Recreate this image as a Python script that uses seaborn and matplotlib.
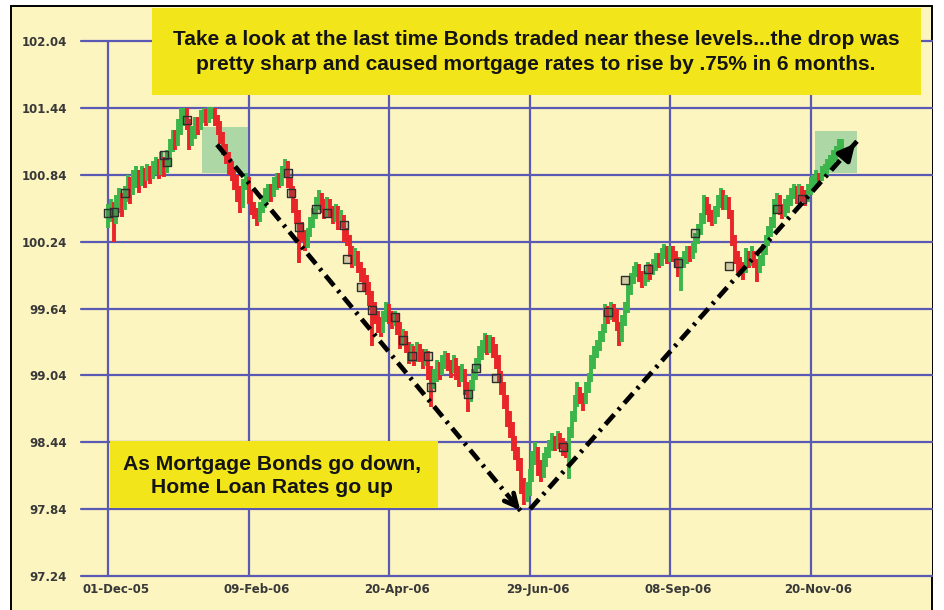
import numpy as np
import pandas as pd
import matplotlib
matplotlib.use("Agg")
import matplotlib.pyplot as plt
from matplotlib.patches import Rectangle
from matplotlib.transforms import ScaledTranslation
import seaborn as sns

# seances : ligne 1 = 1-2 dec 2005, puis une ligne par semaine (lun-ven)
closes = [
    100.51, 100.55,
    100.48, 100.58, 100.62, 100.56, 100.66,
    100.74, 100.70, 100.80, 100.84, 100.78,
    100.86, 100.82, 100.88, 100.84, 100.90,
    100.94, 100.88, 100.96, 100.90, 100.98,
    101.10, 101.18, 101.14, 101.26, 101.34,
    101.40, 101.32, 101.12, 101.22, 101.30,
    101.28, 101.36, 101.40, 101.34, 101.41,
    101.42, 101.35, 101.30, 101.20, 101.10,
    101.00, 100.92, 100.86, 100.80, 100.70,
    100.62, 100.76, 100.80, 100.66, 100.55,
    100.50, 100.44, 100.56, 100.60, 100.66,
    100.70, 100.68, 100.76, 100.80, 100.78,
    100.86, 100.92, 100.78, 100.70, 100.58,
    100.48, 100.38, 100.30, 100.22, 100.32,
    100.40, 100.48, 100.58, 100.63, 100.56,
    100.50, 100.58, 100.52, 100.46, 100.50,
    100.40, 100.44, 100.30, 100.26, 100.16,
    100.08, 100.12, 100.02, 99.96, 99.88,
    99.84, 99.74, 99.66, 99.58, 99.50,
    99.46, 99.56, 99.64, 99.58, 99.54,
    99.56, 99.48, 99.36, 99.40, 99.30,
    99.22, 99.26, 99.20, 99.28, 99.24,
    99.18, 99.22, 99.08, 98.98, 99.04,
    99.12, 99.08, 99.16, 99.20, 99.14,
    99.10, 99.16, 99.06, 99.02, 99.08,
    98.92, 98.84, 98.96, 99.06, 99.14,
    99.24, 99.30, 99.36, 99.28, 99.34,
    99.26, 99.18, 99.04, 98.94, 98.82,
    98.66, 98.56, 98.44, 98.36, 98.26,
    98.06, 97.96, 98.00, 98.14, 98.30,
    98.36, 98.22, 98.16, 98.28, 98.34,
    98.40, 98.46, 98.42, 98.48, 98.44,
    98.40, 98.36, 98.52, 98.66, 98.80,
    98.90, 98.84, 98.80, 98.92, 99.00,
    99.16, 99.24, 99.30, 99.38, 99.44,
    99.62, 99.58, 99.66, 99.60, 99.50,
    99.36, 99.52, 99.64, 99.80, 99.90,
    99.96, 100.00, 99.94, 99.88, 99.92,
    100.00, 99.96, 100.02, 100.08, 100.06,
    100.12, 100.16, 100.10, 100.14, 100.12,
    100.06, 99.98, 100.04, 100.10, 100.14,
    100.12, 100.18, 100.26, 100.34, 100.44,
    100.58, 100.54, 100.48, 100.44, 100.50,
    100.60, 100.66, 100.58, 100.60, 100.50,
    100.26, 100.12, 100.04, 100.00, 99.98,
    100.12, 100.08, 100.14, 100.06, 100.00,
    100.06, 100.16, 100.24, 100.32, 100.40,
    100.56, 100.62, 100.54, 100.50, 100.56,
    100.60, 100.66, 100.70, 100.64, 100.70,
    100.66, 100.62, 100.70, 100.76, 100.78,
    100.82, 100.80, 100.86, 100.88, 100.92,
    100.96, 101.00, 101.04, 101.08, 101.12,
]
highs = [
    100.58, 100.62,
    100.60, 100.66, 100.72, 100.68, 100.74,
    100.84, 100.82, 100.88, 100.92, 100.88,
    100.92, 100.90, 100.94, 100.92, 100.96,
    101.00, 100.98, 101.04, 101.00, 101.06,
    101.16, 101.24, 101.24, 101.34, 101.44,
    101.44, 101.44, 101.34, 101.28, 101.36,
    101.36, 101.42, 101.44, 101.43, 101.45,
    101.45, 101.44, 101.38, 101.32, 101.22,
    101.12, 101.04, 100.96, 100.90, 100.84,
    100.74, 100.80, 100.86, 100.82, 100.70,
    100.60, 100.54, 100.60, 100.66, 100.72,
    100.76, 100.76, 100.82, 100.86, 100.86,
    100.92, 100.98, 100.96, 100.82, 100.74,
    100.62, 100.52, 100.42, 100.34, 100.36,
    100.46, 100.54, 100.64, 100.70, 100.68,
    100.62, 100.64, 100.62, 100.56, 100.58,
    100.56, 100.52, 100.48, 100.36, 100.30,
    100.20, 100.18, 100.16, 100.06, 100.00,
    99.94, 99.88, 99.80, 99.70, 99.62,
    99.56, 99.62, 99.70, 99.68, 99.62,
    99.62, 99.60, 99.52, 99.46, 99.44,
    99.34, 99.32, 99.30, 99.34, 99.32,
    99.28, 99.28, 99.26, 99.12, 99.10,
    99.18, 99.16, 99.22, 99.26, 99.24,
    99.18, 99.22, 99.20, 99.12, 99.14,
    99.10, 98.98, 99.00, 99.10, 99.20,
    99.30, 99.36, 99.42, 99.40, 99.40,
    99.38, 99.32, 99.22, 99.08, 98.98,
    98.86, 98.72, 98.62, 98.50, 98.40,
    98.30, 98.12, 98.08, 98.20, 98.36,
    98.44, 98.40, 98.28, 98.34, 98.40,
    98.46, 98.52, 98.50, 98.54, 98.52,
    98.48, 98.44, 98.58, 98.72, 98.86,
    98.98, 98.94, 98.88, 98.98, 99.06,
    99.22, 99.30, 99.36, 99.44, 99.50,
    99.68, 99.66, 99.70, 99.68, 99.64,
    99.52, 99.58, 99.70, 99.86, 99.96,
    100.02, 100.06, 100.04, 99.98, 99.98,
    100.06, 100.04, 100.08, 100.14, 100.14,
    100.18, 100.22, 100.20, 100.20, 100.20,
    100.16, 100.10, 100.10, 100.16, 100.20,
    100.20, 100.24, 100.32, 100.40, 100.50,
    100.66, 100.64, 100.58, 100.52, 100.56,
    100.66, 100.72, 100.70, 100.66, 100.64,
    100.52, 100.30, 100.16, 100.10, 100.06,
    100.18, 100.16, 100.20, 100.16, 100.08,
    100.12, 100.22, 100.30, 100.38, 100.46,
    100.62, 100.68, 100.66, 100.58, 100.62,
    100.66, 100.72, 100.76, 100.74, 100.76,
    100.74, 100.70, 100.76, 100.82, 100.84,
    100.88, 100.86, 100.92, 100.94, 100.98,
    101.02, 101.06, 101.10, 101.16, 101.16,
]
lows = [
    100.36, 100.42,
    100.24, 100.40, 100.50, 100.46, 100.52,
    100.60, 100.58, 100.66, 100.72, 100.68,
    100.74, 100.72, 100.78, 100.76, 100.80,
    100.84, 100.80, 100.84, 100.82, 100.86,
    100.92, 101.04, 101.06, 101.10, 101.20,
    101.28, 101.24, 101.06, 101.10, 101.16,
    101.20, 101.24, 101.30, 101.28, 101.30,
    101.34, 101.28, 101.20, 101.12, 101.02,
    100.94, 100.84, 100.78, 100.70, 100.60,
    100.50, 100.54, 100.70, 100.58, 100.48,
    100.44, 100.38, 100.42, 100.50, 100.54,
    100.60, 100.60, 100.64, 100.70, 100.72,
    100.74, 100.82, 100.72, 100.64, 100.50,
    100.40, 100.05, 100.24, 100.16, 100.18,
    100.28, 100.36, 100.44, 100.52, 100.50,
    100.44, 100.46, 100.46, 100.40, 100.42,
    100.34, 100.36, 100.24, 100.20, 100.10,
    100.00, 100.02, 99.96, 99.88, 99.80,
    99.76, 99.66, 99.30, 99.50, 99.42,
    99.38, 99.42, 99.52, 99.50, 99.46,
    99.48, 99.40, 99.28, 99.30, 99.24,
    99.14, 99.16, 99.12, 99.16, 99.16,
    99.10, 99.12, 99.00, 98.76, 98.92,
    98.98, 99.00, 99.04, 99.10, 99.08,
    99.02, 99.06, 99.00, 98.94, 98.98,
    98.86, 98.71, 98.80, 98.90, 99.00,
    99.10, 99.18, 99.24, 99.22, 99.24,
    99.20, 99.10, 98.98, 98.86, 98.74,
    98.58, 98.48, 98.36, 98.28, 98.18,
    97.98, 97.88, 97.90, 97.96, 98.08,
    98.24, 98.14, 98.08, 98.12, 98.22,
    98.30, 98.36, 98.36, 98.38, 98.38,
    98.32, 98.30, 98.11, 98.48, 98.62,
    98.76, 98.78, 98.72, 98.78, 98.88,
    98.98, 99.10, 99.20, 99.26, 99.34,
    99.42, 99.50, 99.54, 99.52, 99.44,
    99.30, 99.34, 99.48, 99.60, 99.76,
    99.86, 99.92, 99.88, 99.82, 99.84,
    99.88, 99.90, 99.94, 99.98, 100.00,
    100.02, 100.08, 100.04, 100.06, 100.06,
    100.00, 99.92, 99.80, 100.00, 100.04,
    100.06, 100.08, 100.14, 100.22, 100.30,
    100.40, 100.48, 100.42, 100.38, 100.40,
    100.46, 100.54, 100.52, 100.52, 100.44,
    100.20, 100.04, 99.96, 99.94, 99.90,
    99.96, 100.00, 100.02, 100.00, 99.88,
    99.96, 100.02, 100.12, 100.20, 100.28,
    100.36, 100.50, 100.48, 100.44, 100.46,
    100.50, 100.56, 100.62, 100.58, 100.60,
    100.60, 100.56, 100.60, 100.66, 100.72,
    100.74, 100.74, 100.78, 100.82, 100.84,
    100.88, 100.92, 100.96, 101.00, 101.04,
]
first_open = 100.44

# petits carres (signaux) : index de seance et niveau
mark_idx = [0, 2, 6, 20, 21, 28, 64, 65, 68, 74, 78, 84, 85, 90, 94, 102, 105,
            108, 114, 115, 128, 131, 138, 162, 178, 184, 192, 203, 209, 221, 238, 247]
mark_val = [100.50, 100.51, 100.68, 101.02, 100.95, 101.33, 100.86, 100.68, 100.37,
            100.53, 100.50, 100.39, 100.08, 99.83, 99.63, 99.56, 99.36, 99.21, 99.21,
            98.94, 98.87, 99.11, 99.02, 98.40, 99.61, 99.90, 99.99, 100.05, 100.32,
            100.02, 100.53, 100.62]

ytick_vals = [97.24, 97.84, 98.44, 99.04, 99.64, 100.24, 100.84, 101.44, 102.04]
xtick_idx = [0, 50, 100, 150, 200, 250]
xtick_labels = ["01-Dec-05", "09-Feb-06", "20-Apr-06", "29-Jun-06", "08-Sep-06", "20-Nov-06"]

title_lines = "Take a look at the last time Bonds traded near these levels...the drop was\npretty sharp and caused mortgage rates to rise by .75% in 6 months."
note_lines = "As Mortgage Bonds go down,\nHome Loan Rates go up"

BG = "#fcf5c0"
GRID = "#5a5ab4"
UP = "#3cb54a"
DOWN = "#e8262a"
BOX = "#f2e51a"

df = pd.DataFrame({"close": closes, "high": highs, "low": lows})
df["prev"] = [first_open] + closes[:-1]
df["idx"] = np.arange(len(df))
df["up"] = df["close"] >= df["prev"]

sns.set_style("white")
plt.rcParams["font.family"] = ["DejaVu Sans"]

W, H = 944, 610
fig = plt.figure(figsize=(W / 100, H / 100), dpi=100, facecolor="white")

# cadre noir + fond jaune pale
fig.add_artist(Rectangle((11 / W, -0.05), 921 / W, 1.05 - 6 / H, transform=fig.transFigure,
                         facecolor=BG, edgecolor="black", linewidth=1.4, zorder=0))

ax = fig.add_axes([81 / W, 1 - 576 / H, 851 / W, 535 / H])
ax.set_facecolor(BG)
ax.set_xlim(-9.6, 293.2)
ax.set_ylim(97.24, 102.04)
for s in ax.spines.values():
    s.set_visible(False)

ax.set_yticks(ytick_vals)
ax.set_yticklabels([f"{v:.2f}" for v in ytick_vals])
ax.set_xticks(xtick_idx)
ax.set_xticklabels(xtick_labels)
ax.tick_params(length=0, labelsize=8.5, labelcolor="#383838")
ax.tick_params(axis="y", pad=10)
ax.tick_params(axis="x", pad=5)
for lab in ax.get_xticklabels() + ax.get_yticklabels():
    lab.set_fontweight("bold")
for lab in ax.get_xticklabels():
    lab.set_transform(lab.get_transform() + ScaledTranslation(8 / 100, 0, fig.dpi_scale_trans))
ax.grid(True, color=GRID, linewidth=1.6)
for gl in ax.get_xgridlines() + ax.get_ygridlines():
    gl.set_clip_on(False)
ax.set_axisbelow(True)

# barres haut-bas colorees selon la cloture
cols = np.where(df["up"], UP, DOWN)
lc = ax.vlines(df["idx"], df["low"], df["high"], colors=cols, linewidth=2.8, zorder=3)
lc.set_capstyle("butt")

sns.scatterplot(x=mark_idx, y=mark_val, marker="s", s=40, facecolor=(0.3, 0.3, 0.3, 0.25),
                edgecolor="#2e2e2e", linewidth=1.0, ax=ax, zorder=4)

# zones vertes
ax.add_patch(Rectangle((33.5, 100.86), 16.3, 0.41, facecolor="#8ecb9c", alpha=0.7,
                       edgecolor="none", zorder=2))
ax.add_patch(Rectangle((251.6, 100.86), 14.9, 0.37, facecolor="#8ecb9c", alpha=0.7,
                       edgecolor="none", zorder=2))

# fleches en tirets-points
dash = (2.8, 1.3, 0.6, 1.3)
a1 = ((38.8, 101.11), (147.3, 97.81))
a2 = ((150.2, 97.84), (266.5, 101.14))
for (x0, y0), (x1, y1) in (a1, a2):
    ax.plot([x0, x1], [y0, y1], color="black", linewidth=3.4, dashes=dash, zorder=5)
ax.annotate("", xy=a1[1], xytext=(a1[1][0] - 3, a1[1][1] + 0.09),
            arrowprops=dict(arrowstyle="->", color="black", lw=3.4, mutation_scale=22), zorder=6)
ax.annotate("", xy=a2[1], xytext=(a2[1][0] - 3, a2[1][1] - 0.09),
            arrowprops=dict(arrowstyle="-|>", color="black", lw=3.4, mutation_scale=24), zorder=6)

# encadres jaunes
fig.add_artist(Rectangle((152 / W, 1 - 95 / H), 769 / W, 87 / H, transform=fig.transFigure,
                         facecolor=BOX, edgecolor="none", zorder=7))
fig.text(536 / W, 1 - 52 / H, title_lines, ha="center", va="center", fontsize=15,
         fontweight="bold", family="Liberation Sans", color="#141414", linespacing=1.38, zorder=8)
fig.add_artist(Rectangle((110 / W, 1 - 508 / H), 328 / W, 67 / H, transform=fig.transFigure,
                         facecolor=BOX, edgecolor="none", zorder=7))
fig.text(272 / W, 1 - 476 / H, note_lines, ha="center", va="center", fontsize=15.2,
         fontweight="bold", family="Liberation Sans", color="#141414", linespacing=1.25, zorder=8)

fig.savefig("out.png", dpi=100, facecolor="white")
